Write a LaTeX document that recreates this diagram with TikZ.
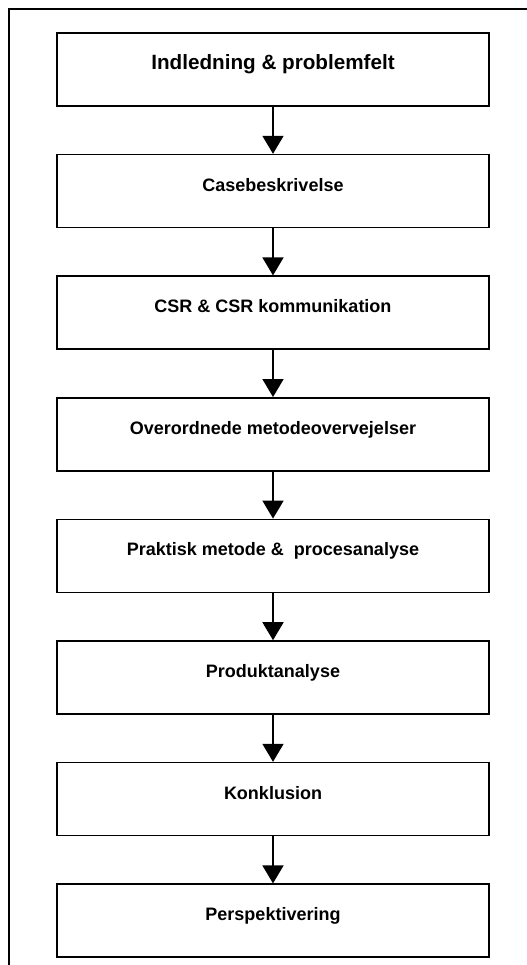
\documentclass[tikz,border=0pt]{standalone}
\usepackage{fontspec}
\newfontfamily\stagefont{Liberation Sans Bold}
\usetikzlibrary{arrows.meta,positioning}

\begin{document}
\begin{tikzpicture}[x=0.75pt,y=-0.75pt,node distance=35.25pt,
  stage/.style={draw,line width=1.2pt,minimum width=324pt,minimum height=54.75pt,
    inner sep=0pt,text height=9pt,text depth=9pt,
    font=\fontsize{13.5pt}{16pt}\stagefont},
  flow/.style={-{Triangle[width=15.75pt,length=13.5pt]},line width=1.3pt}]
\useasboundingbox (0,0) rectangle (527,965);
% outer frame, cut off at right and bottom
\draw[line width=1pt] (9,990) -- (9,9) -- (545,9);

\node[stage,font=\fontsize{15.5pt}{18pt}\stagefont] (intro) at (273,69.5) {Indledning \& problemfelt};
\node[stage,below=of intro] (case) {Casebeskrivelse};
\node[stage,below=of case] (csr) {CSR \& CSR kommunikation};
\node[stage,below=of csr] (method) {Overordnede metodeovervejelser};
\node[stage,below=of method] (practice) {Praktisk metode \&~ procesanalyse};
\node[stage,below=of practice] (product) {Produktanalyse};
\node[stage,below=of product] (concl) {Konklusion};
\node[stage,below=of concl] (persp) {Perspektivering};

\foreach \a/\b in {intro/case,case/csr,csr/method,method/practice,
  practice/product,product/concl,concl/persp}
  \draw[flow] (\a) -- (\b);
\end{tikzpicture}
\end{document}
